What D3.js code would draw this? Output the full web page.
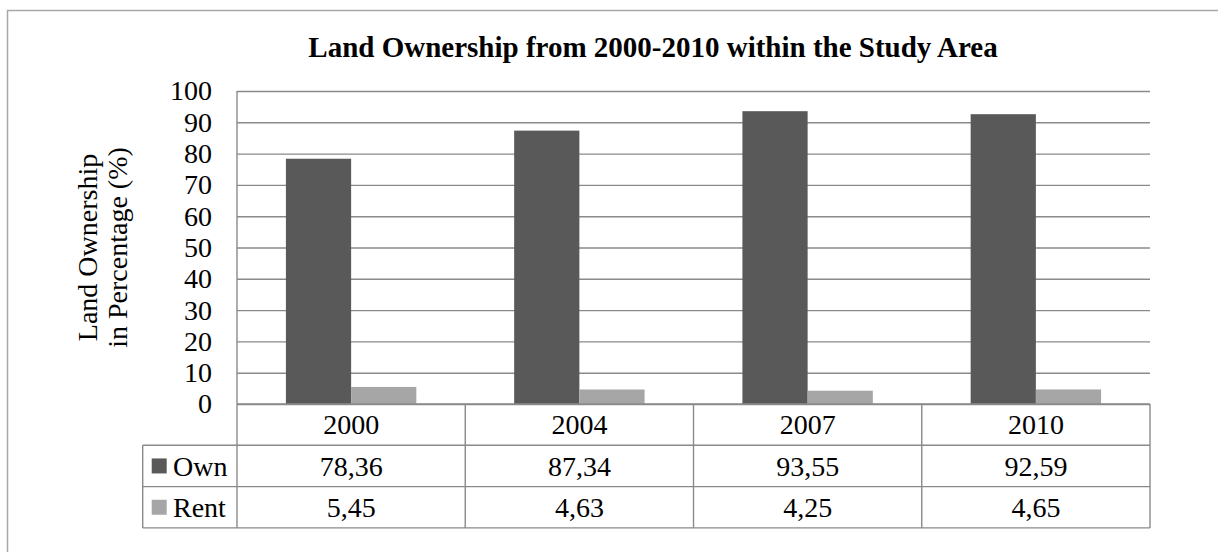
<!DOCTYPE html>
<html><head><meta charset="utf-8">
<script src="https://cdn.jsdelivr.net/npm/d3@7/dist/d3.min.js"></script>
<style>body{margin:0;background:#fff}svg{display:block}text{font-family:"Liberation Serif","Times New Roman",serif;fill:#000}</style>
</head><body>
<svg id="c" width="1218" height="552"></svg>
<script>
const years = ["2000","2004","2007","2010"];
const seriesNames = ["Own","Rent"];
const ownValues = [78.36, 87.34, 93.55, 92.59];
const rentValues = [5.45, 4.63, 4.25, 4.65];
const yTicks = [0,10,20,30,40,50,60,70,80,90,100];
const seriesColors = ["#595959","#a6a6a6"];
const titleText = "Land Ownership from 2000-2010 within the Study Area";
const yTitle = ["Land Ownership","in Percentage (%)"];

const series = [ownValues, rentValues];
const svg = d3.select("#c");
const L = 237, R = 1150, T = 91, B = 404;
const rowH = 41.3, tableLeft = 142.7;
const gridColor = "#8a8a8a";
const fmt = d3.formatLocale({decimal:",",thousands:".",grouping:[3],currency:["",""]}).format(".2f");

// outer frame
svg.append("rect").attr("x",7.5).attr("y",10.5).attr("width",1240).attr("height",600)
  .attr("fill","none").attr("stroke","#a8a8a8").attr("stroke-width",1.5);

const y = d3.scaleLinear().domain([0,100]).range([B,T]);
const x = d3.scaleBand().domain(years).range([L,R]).paddingInner(0).paddingOuter(0);
const x1 = d3.scaleBand().domain(seriesNames).range([0,x.bandwidth()]).paddingInner(0).paddingOuter(0.75);

// title
svg.append("text").attr("x",653).attr("y",57).attr("text-anchor","middle")
  .style("font-size","29px").style("font-weight","bold").text(titleText);

// y axis w/ grid
const ax = svg.append("g").attr("transform",`translate(${L},0)`)
  .call(d3.axisLeft(y).tickValues(yTicks).tickSizeInner(-(R-L)).tickSizeOuter(0).tickPadding(25));
ax.select(".domain").remove();
ax.selectAll(".tick line").attr("stroke",gridColor).attr("stroke-width",1.4);
ax.selectAll(".tick text").style("font-size","28px").style("font-family","'Liberation Serif',serif").attr("fill","#000");

// y axis title
const yt = svg.append("text").attr("transform",`translate(0,${(T+B)/2}) rotate(-90)`)
  .attr("text-anchor","middle").style("font-size","28px");
yTitle.forEach((t,i)=> yt.append("tspan").attr("x",0).attr("y",97+i*30).text(t));

// bars
const gb = svg.append("g");
seriesNames.forEach((s,si)=>{
  gb.selectAll(null).data(years.map((yr,i)=>({yr,v:series[si][i]}))).enter().append("rect")
    .attr("x",d=>x(d.yr)+x1(s)).attr("width",x1.bandwidth())
    .attr("y",d=>y(d.v)).attr("height",d=>y(0)-y(d.v)).attr("fill",seriesColors[si]);
});

// vertical axis line
svg.append("line").attr("x1",L).attr("x2",L).attr("y1",T).attr("y2",B+3*rowH)
  .attr("stroke",gridColor).attr("stroke-width",1.4);

// data table
const tg = svg.append("g").attr("stroke",gridColor).attr("stroke-width",1.4);
// horizontal lines
tg.append("line").attr("x1",L).attr("x2",R).attr("y1",B).attr("y2",B);
[1,2,3].forEach(k=> tg.append("line").attr("x1",tableLeft).attr("x2",R).attr("y1",B+k*rowH).attr("y2",B+k*rowH));
// vertical lines
years.forEach(yr=> tg.append("line").attr("x1",x(yr)+x.bandwidth()).attr("x2",x(yr)+x.bandwidth()).attr("y1",B).attr("y2",B+3*rowH));
tg.append("line").attr("x1",tableLeft).attr("x2",tableLeft).attr("y1",B+rowH).attr("y2",B+3*rowH);

// header texts
svg.selectAll(null).data(years).enter().append("text")
  .attr("x",d=>x(d)+x.bandwidth()/2).attr("y",B+rowH/2).attr("dy","0.35em")
  .attr("text-anchor","middle").style("font-size","28px").text(d=>d);
// rows
seriesNames.forEach((s,si)=>{
  const cy = B+rowH*(si+1)+rowH/2;
  svg.append("rect").attr("x",151.7).attr("y",cy-7.5).attr("width",15).attr("height",15).attr("fill",seriesColors[si]);
  svg.append("text").attr("x",173).attr("y",cy).attr("dy","0.35em").style("font-size","28px").text(s);
  svg.selectAll(null).data(years.map((yr,i)=>({yr,v:series[si][i]}))).enter().append("text")
    .attr("x",d=>x(d.yr)+x.bandwidth()/2).attr("y",cy).attr("dy","0.35em")
    .attr("text-anchor","middle").style("font-size","28px").text(d=>fmt(d.v));
});
</script>
</body></html>
